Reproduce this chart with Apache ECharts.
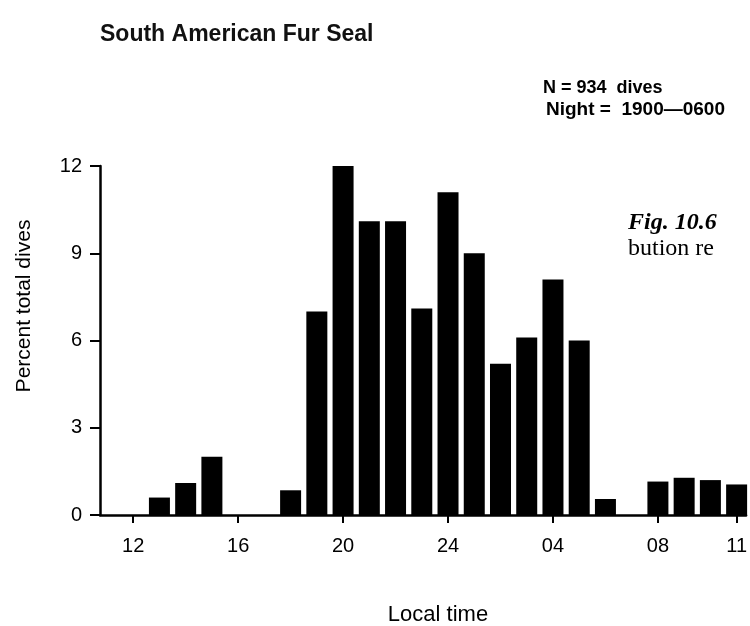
<!DOCTYPE html>
<html>
<head>
<meta charset="utf-8">
<script src="https://cdn.jsdelivr.net/npm/echarts@6/dist/echarts.min.js"></script>
<style>
html,body{margin:0;padding:0;background:#fff;}
#chart{width:750px;height:626px;}
</style>
</head>
<body>
<div id="chart"></div>
<script>
// Hour positions on a continuous clock (24 = midnight, 25 = 01, ...)
const hourPositions = [12,13,14,15,16,17,18,19,20,21,22,23,24,25,26,27,28,29,30,31,32,33,34,35];
const hourNames = ['12','13','14','15','16','17','18','19','20','21','22','23','24','01','02','03','04','05','06','07','08','09','10','11'];
const percentDives = [0,0.6,1.1,2.0,0,0,0.85,7.0,12.0,10.1,10.1,7.1,11.1,9.0,5.2,6.1,8.1,6.0,0.55,0,1.15,1.28,1.2,1.05];
const tickHours = [12,16,20,24,28,32,35];
const tickLabels = ['12','16','20','24','04','08','11'];
const yTicks = [0,3,6,9,12];

const chart = echarts.init(document.getElementById('chart'), null, {renderer:'canvas'});
const sans = 'Liberation Sans, Arial, Helvetica, sans-serif';
const serif = 'Liberation Serif, Times New Roman, serif';

const barData = hourPositions.map((h,i)=>[h, percentDives[i]]);

chart.setOption({
  backgroundColor:'#fff',
  animation:false,
  title:{
    text:'South American Fur Seal',
    left:95, top:18,
    textStyle:{fontFamily:sans, fontWeight:'bold', fontSize:23, color:'#111'}
  },
  grid:{left:100, right:0, top:166, bottom:111, containLabel:false},
  xAxis:{
    type:'value', min:10.735, max:35.36,
    axisLine:{show:true, onZero:false, lineStyle:{color:'#000', width:2.5}},
    axisTick:{show:true, customValues:tickHours, length:8, lineStyle:{color:'#000', width:2}},
    axisLabel:{show:true, customValues:tickHours, margin:21,
      formatter:(v)=>tickLabels[tickHours.indexOf(v)],
      fontFamily:sans, fontSize:20, color:'#000'},
    splitLine:{show:false}
  },
  yAxis:{
    type:'value', min:0, max:12, interval:3,
    axisLine:{show:true, lineStyle:{color:'#000', width:2.5}},
    axisTick:{show:true, length:10, lineStyle:{color:'#000', width:2}},
    axisLabel:{fontFamily:sans, fontSize:20, color:'#000', margin:18,
      formatter:(v)=> yTicks.includes(v) ? String(v) : ''},
    splitLine:{show:false}
  },
  series:[{
    type:'bar',
    data:barData,
    barWidth:21,
    itemStyle:{color:'#000'}
  }],
  graphic:[
    {type:'text', x:24, y:306, rotation:Math.PI/2, style:{text:'Percent total dives', font:'21px '+sans, fill:'#000', align:'center', verticalAlign:'middle'}},
    {type:'text', x:438, y:615, style:{text:'Local time', font:'22px '+sans, fill:'#000', align:'center', verticalAlign:'middle'}},
    {type:'text', x:543, y:88, style:{text:'N = 934  dives', font:'bold 18px '+sans, fill:'#000', verticalAlign:'middle'}},
    {type:'text', x:546, y:110, style:{text:'Night =  1900\u20140600', font:'bold 19px '+sans, fill:'#000', verticalAlign:'middle'}},
    {type:'text', x:628, y:223, style:{text:'Fig. 10.6', font:'italic bold 24px '+serif, fill:'#000', verticalAlign:'middle'}},
    {type:'text', x:628, y:249, style:{text:'bution re', font:'24px '+serif, fill:'#000', verticalAlign:'middle'}}
  ]
});
</script>
</body>
</html>
